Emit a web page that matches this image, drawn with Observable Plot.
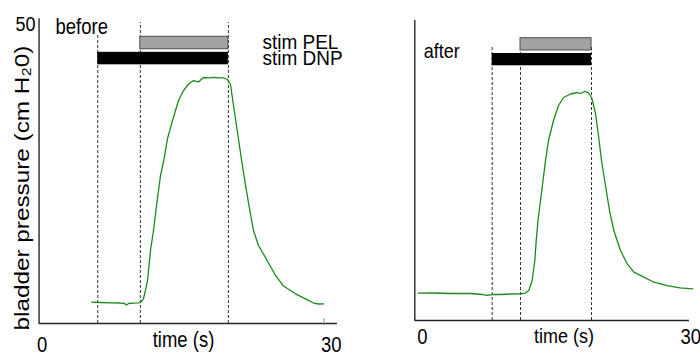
<!DOCTYPE html>
<html><head><meta charset="utf-8">
<script src="https://cdn.jsdelivr.net/npm/d3@7"></script>
<script src="https://cdn.jsdelivr.net/npm/@observablehq/plot@0.6"></script>
<style>
body{margin:0;background:#fff;}
#wrap{position:relative;width:700px;height:354px;overflow:hidden;background:#fff;}
#wrap > div{position:absolute;top:0;width:350px;height:354px;}
</style></head><body>
<div id="wrap"><div id="p1" style="left:0"></div><div id="p2" style="left:350px"></div></div>
<script>
// ---- data ----
const beforeTime = [5.47,6.39,7.45,8.50,8.93,9.14,9.35,9.88,10.40,10.67,10.93,11.14,11.36,11.67,11.99,12.31,12.73,13.08,13.47,14.00,14.63,15.16,15.69,16.21,16.74,17.27,17.80,18.33,18.86,19.38,19.81,20.12,20.47,20.83,21.25,21.71,22.13,22.55,23.08,23.82,24.88,25.72,26.99,28.04,28.89,29.42,29.98];
const beforePressure = [3.50,3.45,3.40,3.36,3.28,3.04,3.28,3.35,3.38,3.53,4.10,5.42,7.06,11.98,15.26,19.36,24.29,26.75,30.36,33.31,36.59,38.23,39.30,39.87,39.63,40.37,40.29,40.40,40.29,40.29,40.04,39.22,35.49,31.67,27.24,22.65,18.87,15.26,12.80,10.83,7.88,6.15,4.87,4.05,3.36,3.20,3.23];
const afterTime = [-0.23,1.17,3.45,5.73,7.10,7.63,8.24,9.15,10.29,11.43,12.00,12.37,12.76,13.06,13.22,13.42,13.71,14.28,14.62,15.19,15.76,16.33,17.13,17.93,18.27,18.73,19.19,19.57,19.97,20.31,20.66,21.11,21.57,22.06,22.82,23.58,24.34,25.48,26.62,28.14,29.58,31.06];
const afterPressure = [4.55,4.58,4.50,4.50,4.33,4.17,4.33,4.33,4.42,4.45,4.58,5.00,6.67,10.0,13.33,16.67,20.0,26.67,30.0,33.33,35.83,37.17,37.75,38.0,37.83,38.17,37.92,37.0,34.5,30.83,26.67,22.5,18.33,15.0,11.67,9.45,8.05,7.22,6.38,5.83,5.45,5.28];
// stimulation markers: [DNP start, PEL start, both end] (s)
const beforeMarkers = [6.1, 10.6, 19.9];
const afterMarkers = [8.2, 11.43, 19.52];
const beforeMarkerTop = [47.6, 49.4, 49.4];
const afterMarkerTop = [45.55, 45.55, 45.55];
const dnpLevel = [42.45, 44.5];
const pelLevel = [45.0, 47.05];
const barLabels = ["stim PEL", "stim DNP"];
const panelLabels = ["before", "after"];
const xTicks = [0, 30];
const yTicks = [50];
const xLabel = "time (s)";
const yLabel = "bladder pressure (cm H\u20820)";

const FONT = '"Liberation Sans", Arial, Helvetica, sans-serif';
const GREEN = "#1b8a1b";
const AX = "#262626";

function stretch(svg) {
  d3.select(svg).selectAll("text").each(function () {
    const t = this.getAttribute("transform") || "";
    const s = this.textContent;
    if (s.startsWith("bladder")) {
      this.setAttribute("textLength", 285);
      this.setAttribute("lengthAdjust", "spacingAndGlyphs");
    } else if (s.startsWith("stim")) {
      this.setAttribute("transform", t + " scale(1,1.03)");
    } else {
      this.setAttribute("transform", t + " scale(1,1.15)");
    }
  });
  return svg;
}

const left = Plot.plot({
  width: 350, height: 354, margin: 0,
  x: {domain: [0, 30], range: [39.5, 323.5], axis: null},
  y: {domain: [0, 50], range: [323, 18.3], axis: null},
  style: {fontFamily: FONT, background: "transparent", overflow: "visible"},
  marks: [
    Plot.ruleX(beforeMarkers, {x: d => d, y1: 0, y2: (d, i) => beforeMarkerTop[i], stroke: "#333", strokeDasharray: "3,2", strokeWidth: 1}),
    Plot.rect([0], {x1: beforeMarkers[0], x2: beforeMarkers[2], y1: dnpLevel[0], y2: dnpLevel[1], fill: "black"}),
    Plot.rect([0], {x1: beforeMarkers[1], x2: beforeMarkers[2], y1: pelLevel[0], y2: pelLevel[1], fill: "#a3a3a3", stroke: "#4d4d4d", strokeWidth: 1}),
    Plot.line(beforeTime.map((t, i) => ({t, p: beforePressure[i]})), {x: "t", y: "p", stroke: GREEN, strokeWidth: 1.3}),
    Plot.ruleY([0], {x1: -0.1, x2: 31.42, stroke: AX, strokeWidth: 1.4}),
    Plot.ruleX([-0.1], {y1: 0, y2: 50, stroke: AX, strokeWidth: 1.4}),
    Plot.ruleX([30], {y1: -0.33, y2: 0.8, stroke: "#888", strokeWidth: 1}),
    Plot.text(xTicks, {x: d => d, y: 0, text: d => String(d), textAnchor: "start", lineAnchor: "bottom", dx: -3, dy: 28, fontSize: 18.5, fontFamily: FONT}),
    Plot.text(yTicks, {x: -0.1, y: d => d, text: d => String(d), textAnchor: "end", lineAnchor: "bottom", dx: -3.5, dy: 11.7, fontSize: 18, fontFamily: FONT}),
    Plot.text([xLabel], {x: 15.16, y: 0, text: d => d, textAnchor: "middle", lineAnchor: "bottom", dy: 23, fontSize: 18.5, fontFamily: FONT}),
    Plot.text([yLabel], {x: -1.13, y: 22.23, text: d => d, rotate: -90, textAnchor: "middle", lineAnchor: "bottom", fontSize: 21, fontFamily: FONT}),
    Plot.text([panelLabels[0]], {x: 1.64, y: 47.54, text: d => d, textAnchor: "start", lineAnchor: "bottom", fontSize: 18.5, fontFamily: FONT}),
    Plot.text(barLabels, {x: 23.5, y: (d, i) => i === 0 ? pelLevel[0] : dnpLevel[0], text: d => d, textAnchor: "start", lineAnchor: "bottom", fontSize: 19, fontFamily: FONT})
  ]
});

const right = Plot.plot({
  width: 350, height: 354, margin: 0,
  x: {domain: [0, 30], range: [69.7, 333], axis: null},
  y: {domain: [0, 50], range: [320, 20], axis: null},
  style: {fontFamily: FONT, background: "transparent", overflow: "visible"},
  marks: [
    Plot.ruleX(afterMarkers, {x: d => d, y1: 0, y2: (d, i) => afterMarkerTop[i], stroke: "#333", strokeDasharray: "3,2", strokeWidth: 1}),
    Plot.rect([0], {x1: afterMarkers[0], x2: afterMarkers[2], y1: dnpLevel[0], y2: dnpLevel[1], fill: "black"}),
    Plot.rect([0], {x1: afterMarkers[1], x2: afterMarkers[2], y1: pelLevel[0], y2: pelLevel[1], fill: "#a3a3a3", stroke: "#4d4d4d", strokeWidth: 1}),
    Plot.line(afterTime.map((t, i) => ({t, p: afterPressure[i]})), {x: "t", y: "p", stroke: GREEN, strokeWidth: 1.3}),
    Plot.ruleY([0], {x1: -0.615, x2: 30.68, stroke: AX, strokeWidth: 1.4}),
    Plot.ruleX([-0.615], {y1: 0, y2: 50, stroke: AX, strokeWidth: 1.4}),
    Plot.text(xTicks, {x: d => d, y: 0, text: d => String(d), textAnchor: "start", lineAnchor: "bottom", dx: -3, dy: 23.3, fontSize: 18.5, fontFamily: FONT}),
    Plot.text([xLabel], {x: 16.38, y: 0, text: d => d, textAnchor: "middle", lineAnchor: "bottom", dy: 22, fontSize: 18, fontFamily: FONT}),
    Plot.text([panelLabels[1]], {x: 0.41, y: 43.78, text: d => d, textAnchor: "start", lineAnchor: "bottom", fontSize: 18, fontFamily: FONT})
  ]
});

document.getElementById("p1").appendChild(stretch(left));
document.getElementById("p2").appendChild(stretch(right));
</script>
</body></html>
